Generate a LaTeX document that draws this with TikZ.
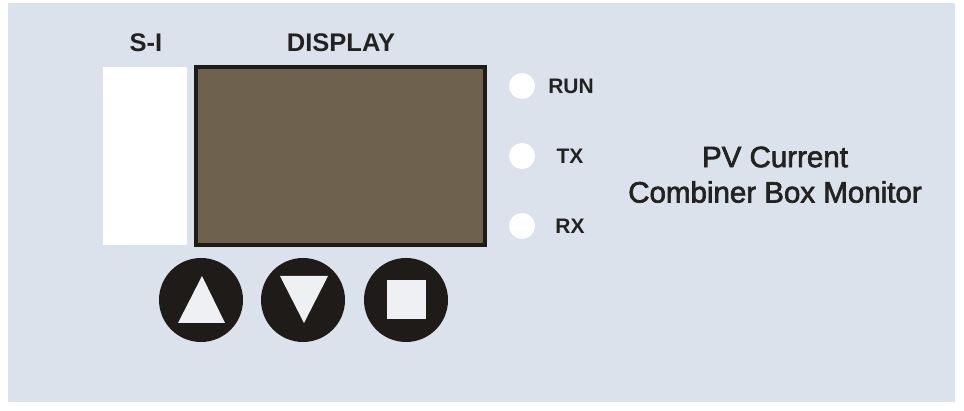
\documentclass[tikz,border=0pt]{standalone}
\usepackage{fontspec}
\setmainfont{Liberation Sans}
\newfontfamily\titlefont{Liberation Sans}[FakeBold=2.2]
\usepackage{xcolor}
\definecolor{panel}{HTML}{DCE2EB}
\definecolor{lcd}{HTML}{6E614E}
\definecolor{knob}{HTML}{1E1B19}
\definecolor{ink}{HTML}{222222}
\definecolor{symbolfill}{HTML}{EEF0F4}
\tikzset{
  label text/.style={text=ink,inner sep=0,font=\bfseries\fontsize{25.5}{30}\selectfont},
  led text/.style={text=ink,inner sep=0,font=\bfseries\fontsize{21}{25}\selectfont},
  title text/.style={text=ink,inner sep=0,font=\titlefont\fontsize{29.5}{35}\selectfont},
  button/.style={fill=knob},
  led/.style={fill=white},
  symbol/.style={fill=symbolfill}
}

\begin{document}
\begin{tikzpicture}[x=1pt,y=-1pt]
  \useasboundingbox (0,0) rectangle (964,411);
  \fill[white] (0,0) rectangle (964,411);
  \fill[panel] (8,3) rectangle (955,402);
  % S-I window and display
  \fill[white] (103,67) rectangle (187,245);
  \draw[knob,line width=4pt,fill=lcd] (196,67) rectangle (485,245);
  \node[label text] (si) at (146,43) {S-I};
  \node[label text] (display) at (341,43) {DISPLAY};
  % buttons
  \fill[button] (201,300) circle (42);
  \fill[button] (303,300) circle (42);
  \fill[button] (406,300) circle (42);
  \fill[symbol] (178,323) -- (225,323) -- (202,276) -- cycle;
  \fill[symbol] (280,276) -- (328,276) -- (304,323) -- cycle;
  \fill[symbol] (387,280) rectangle (426,319);
  % leds
  \fill[led] (522,86) circle (13);
  \fill[led] (522,156) circle (13);
  \fill[led] (522,226) circle (13);
  \node[led text] (run) at (571,86) {RUN};
  \node[led text] (tx) at (570,156) {TX};
  \node[led text] (rx) at (570,226) {RX};
  \node[title text] (title) at (775,157) {PV Current};
  \node[title text] (subtitle) at (775,192) {Combiner Box Monitor};
\end{tikzpicture}
\end{document}
